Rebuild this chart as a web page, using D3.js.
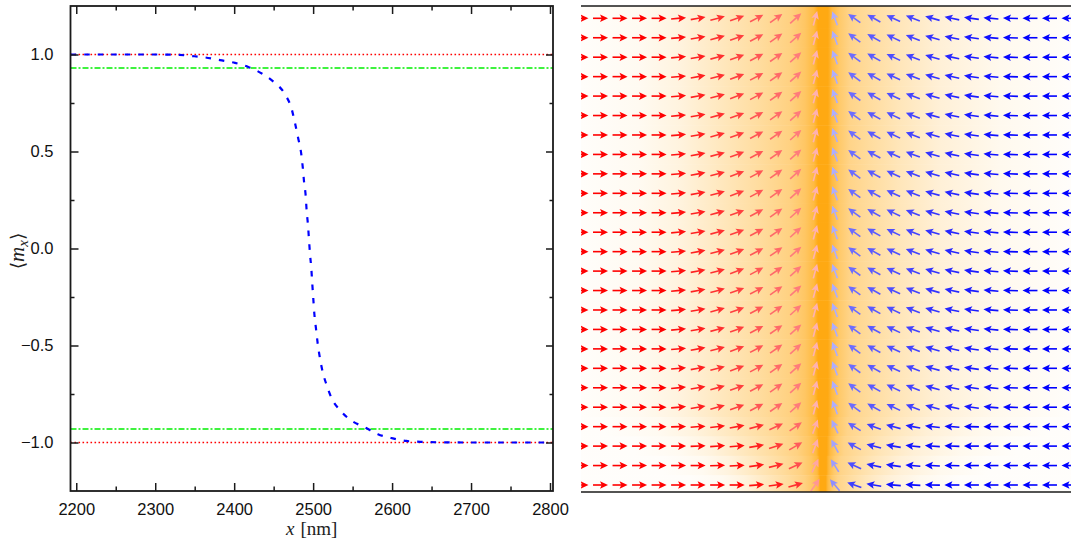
<!DOCTYPE html>
<html><head><meta charset="utf-8">
<script src="https://cdn.jsdelivr.net/npm/d3@7"></script>
<style>body{margin:0;background:#fff} svg{display:block}</style>
</head><body>
<svg id="fig" width="1071" height="544"></svg>
<script>
// ---- left panel: averaged magnetisation profile across the wall ----
const positionNm = [2193, 2250, 2300, 2331, 2344, 2363, 2382, 2401, 2418, 2435, 2450, 2464,
  2473, 2477, 2481, 2484.6, 2486.8, 2488.4, 2490.6, 2491.8, 2493.5, 2494.8, 2496.1, 2497.7,
  2498.9, 2500.2, 2501.5, 2503.6, 2505.8, 2508.7, 2512.1, 2517.2, 2523.5, 2534, 2546, 2566,
  2582, 2601, 2618, 2640, 2660, 2700, 2750, 2804];
const meanMx = [1.0, 1.0, 1.0, 0.998, 0.993, 0.985, 0.971, 0.957, 0.936, 0.902, 0.859, 0.797,
  0.716, 0.647, 0.570, 0.498, 0.421, 0.348, 0.270, 0.194, 0.120, 0.043, -0.031, -0.103,
  -0.180, -0.258, -0.335, -0.412, -0.490, -0.567, -0.636, -0.705, -0.773, -0.833, -0.880, -0.923,
  -0.957, -0.979, -0.992, -0.997, -0.999, -1.0, -1.0, -1.0];
const saturationLevels = [1, -1];
const thresholdLevels = [0.93, -0.93];
const xTickValues = [2200, 2300, 2400, 2500, 2600, 2700, 2800];
const xMinorValues = [2250, 2350, 2450, 2550, 2650, 2750];
const yTickValues = [-1, -0.5, 0, 0.5, 1];
const yMinorValues = [-0.75, -0.25, 0.25, 0.75];

// ---- right panel: in-plane magnetisation map ----
// arrow direction per column, degrees from +x (counter-clockwise), bulk rows
const arrowAngleDeg = [0, 0, 0, 0, 0, 5, 10, 15, 20, 28, 35, 42, 75,
  110, 144, 151, 155, 159, 164, 168, 172, 175, 178, 180, 180, 180];
// the four rows next to the lower edge, where the wall is narrower
const edgeRowAngleDeg = {
  21: [0, 0, 0, 0, 0, 2, 4, 7, 10, 15, 25, 35, 70, 115, 148, 160, 165, 170, 173, 176, 178, 180, 180, 180, 180, 180],
  22: [0, 0, 0, 0, 0, 0, 2, 4, 5, 10, 18, 30, 70, 118, 152, 165, 170, 174, 176, 178, 180, 180, 180, 180, 180, 180],
  23: [0, 0, 0, 0, 0, 0, 0, 2, 3, 8, 14, 25, 65, 122, 155, 168, 172, 175, 177, 179, 180, 180, 180, 180, 180, 180],
  24: [0, 0, 0, 0, 0, 0, 0, 0, 0, 5, 8, 15, 55, 130, 160, 170, 175, 177, 179, 180, 180, 180, 180, 180, 180, 180]
};
const rowIndex = d3.range(25);
// relative width of the shaded wall region in each row
const rowShadeWidth = [1, 1, 1, 1, 1, 1, 1, 1, 1, 1, 1, 1, 1, 1, 1, 1, 1, 1, 1, 1, 1, 0.9, 0.78, 0.66, 0.55];
// shading of the wall region: position in column units, level 0..1
const shadeCenter = 12.4;
const shadePos =   [0, 3.0, 5.07, 7.12, 9.17, 10.7, 11.48, 11.94, 12.14, 12.4, 12.65, 12.86, 13.27, 13.78, 14.8, 16.34, 18.39, 21.46, 25.1];
const shadeLevel = [0.02, 0.06, 0.14, 0.27, 0.41, 0.53, 0.66, 0.8, 1.0, 1.0, 1.0, 0.8, 0.62, 0.5, 0.41, 0.29, 0.17, 0.07, 0.02];

const svg = d3.select("#fig");
const sans = "'Liberation Sans', Arial, sans-serif";
const serif = "'Liberation Serif', 'DejaVu Serif', serif";

// ===== left panel =====
const L = {left: 70.5, right: 553, top: 6, bottom: 491};
const x = d3.scaleLinear().domain([2192.7, 2803.8]).range([L.left, L.right]);
const y = d3.scaleLinear().domain([-1.25, 1.25]).range([L.bottom, L.top]);

const left = svg.append("g");
left.append("defs").append("clipPath").attr("id", "plotClip")
  .append("rect").attr("x", L.left).attr("y", L.top)
  .attr("width", L.right - L.left).attr("height", L.bottom - L.top);

const plot = left.append("g").attr("clip-path", "url(#plotClip)");
plot.selectAll("line.sat").data(saturationLevels).join("line")
  .attr("class", "sat")
  .attr("x1", L.left).attr("x2", L.right)
  .attr("y1", d => y(d)).attr("y2", d => y(d))
  .attr("stroke", "#ff0000").attr("stroke-width", 1.4)
  .attr("stroke-dasharray", "1.6,2.4");
plot.selectAll("line.thr").data(thresholdLevels).join("line")
  .attr("class", "thr")
  .attr("x1", L.left).attr("x2", L.right)
  .attr("y1", d => y(d)).attr("y2", d => y(d))
  .attr("stroke", "#00ee00").attr("stroke-width", 1.5)
  .attr("stroke-dasharray", "6,2,2,2");
const line = d3.line().x(d => x(d[0])).y(d => y(d[1])).curve(d3.curveMonotoneX);
plot.append("path")
  .datum(positionNm.map((p, i) => [p, meanMx[i]]))
  .attr("d", line).attr("fill", "none")
  .attr("stroke", "#0000ff").attr("stroke-width", 2.2)
  .attr("stroke-dasharray", "5.5,8");

// axes (ticks pointing inward on all four sides)
const axisColor = "#1a1a1a";
const bottomAx = left.append("g").attr("transform", `translate(0,${L.bottom})`)
  .call(d3.axisBottom(x).tickValues(xTickValues).tickSize(-8).tickPadding(12).tickFormat(d3.format("d")));
const bottomMinor = left.append("g").attr("transform", `translate(0,${L.bottom})`)
  .call(d3.axisBottom(x).tickValues(xMinorValues).tickSize(-4.5).tickFormat(""));
const topAx = left.append("g").attr("transform", `translate(0,${L.top})`)
  .call(d3.axisTop(x).tickValues(xTickValues).tickSize(-8).tickFormat(""));
const topMinor = left.append("g").attr("transform", `translate(0,${L.top})`)
  .call(d3.axisTop(x).tickValues(xMinorValues).tickSize(-4.5).tickFormat(""));
const leftAx = left.append("g").attr("transform", `translate(${L.left},0)`)
  .call(d3.axisLeft(y).tickValues(yTickValues).tickSize(-8).tickPadding(17).tickFormat(d3.format(".1f")));
const leftMinor = left.append("g").attr("transform", `translate(${L.left},0)`)
  .call(d3.axisLeft(y).tickValues(yMinorValues).tickSize(-4).tickFormat(""));
const rightAx = left.append("g").attr("transform", `translate(${L.right},0)`)
  .call(d3.axisRight(y).tickValues(yTickValues).tickSize(-7).tickFormat(""));
const rightMinor = left.append("g").attr("transform", `translate(${L.right},0)`)
  .call(d3.axisRight(y).tickValues(yMinorValues).tickSize(-3.5).tickFormat(""));

[bottomAx, bottomMinor, topAx, topMinor, leftAx, leftMinor, rightAx, rightMinor].forEach(g => {
  g.select(".domain").remove();
  g.selectAll(".tick line").attr("stroke", axisColor).attr("stroke-width", 1.5);
  g.selectAll(".tick text").attr("fill", "#111").style("font-family", sans).style("font-size", "16.5px");
});
bottomAx.selectAll(".tick text").attr("dy", "0.71em");

left.append("rect")
  .attr("x", L.left).attr("y", L.top)
  .attr("width", L.right - L.left).attr("height", L.bottom - L.top)
  .attr("fill", "none").attr("stroke", axisColor).attr("stroke-width", 1.8);

// axis titles
const xt = left.append("text")
  .attr("x", (L.left + L.right) / 2).attr("y", 535)
  .attr("text-anchor", "middle")
  .style("font-family", serif).style("font-size", "19px").attr("fill", "#222");
xt.append("tspan").style("font-style", "italic").text("x");
xt.append("tspan").attr("dx", 6).text("[nm]");

const yt = left.append("text")
  .attr("transform", "translate(24,251) rotate(-90)")
  .attr("text-anchor", "middle")
  .style("font-family", serif).style("font-size", "21px").attr("fill", "#222");
yt.append("tspan").style("font-family", "'DejaVu Serif', serif").style("font-size", "19px").text("⟨");
yt.append("tspan").style("font-style", "italic").text("m");
yt.append("tspan").style("font-style", "italic").style("font-size", "15px").attr("dy", 4).text("x");
yt.append("tspan").attr("dy", -4).style("font-family", "'DejaVu Serif', serif").style("font-size", "19px").text("⟩");

// ===== right panel =====
const R = {left: 581, right: 1071, top: 6, bottom: 492};
const col = d3.scaleLinear().domain([0, 25]).range([581, 1069]);
const row = d3.scaleLinear().domain([0, 24]).range([18.3, 485]);
const rowStep = row(1) - row(0);
const shade = d3.interpolateRgb("#ffffff", "#ffa912");

const right = svg.append("g");
const defs = right.append("defs");
defs.append("clipPath").attr("id", "mapClip")
  .append("rect").attr("x", R.left).attr("y", R.top)
  .attr("width", R.right - R.left).attr("height", R.bottom - R.top);

// one horizontal gradient per row band, squeezed towards the wall centre where the wall is narrower
const grads = defs.selectAll("linearGradient").data(rowIndex).join("linearGradient")
  .attr("id", r => `wallShade${r}`)
  .attr("gradientUnits", "userSpaceOnUse")
  .attr("x1", col(-20)).attr("x2", col(45)).attr("y1", 0).attr("y2", 0);
grads.each(function (r) {
  const w = rowShadeWidth[r];
  const stops = [{p: -20, v: 0}].concat(
    shadePos.map((p, i) => ({p: shadeCenter + (p - shadeCenter) * w, v: shadeLevel[i]})),
    [{p: 45, v: 0}]);
  d3.select(this).selectAll("stop").data(stops).join("stop")
    .attr("offset", d => (d.p + 20) / 65)
    .attr("stop-color", d => shade(d.v));
});

const map = right.append("g").attr("clip-path", "url(#mapClip)");
map.selectAll("rect.band").data(rowIndex).join("rect")
  .attr("class", "band")
  .attr("x", R.left).attr("width", R.right - R.left)
  .attr("y", r => r === 0 ? R.top : row(r) - rowStep / 2)
  .attr("height", r => r === 0 ? row(0) + rowStep / 2 - R.top + 0.5
    : (r === 24 ? R.bottom - (row(r) - rowStep / 2) : rowStep + 0.5))
  .attr("fill", r => `url(#wallShade${r})`);

const cells = [];
rowIndex.forEach(r => {
  const angles = edgeRowAngleDeg[r] || arrowAngleDeg;
  angles.forEach((a, c) => cells.push({r, c, a}));
});
const arrowColor = a => {
  const t = a * Math.PI / 180;
  const base = Math.cos(t) >= 0 ? "#ff0000" : "#0000ff";
  return d3.interpolateRgb(base, "#ffffff")(0.72 * Math.abs(Math.sin(t)));
};
const arrows = map.selectAll("g.arrow").data(cells).join("g")
  .attr("class", "arrow")
  .attr("transform", d => `translate(${col(d.c)},${row(d.r)}) rotate(${-d.a})`);
arrows.append("line")
  .attr("x1", -7.5).attr("x2", 1.5).attr("y1", 0).attr("y2", 0)
  .attr("stroke", d => arrowColor(d.a)).attr("stroke-width", 1.6);
arrows.append("path")
  .attr("d", "M7.5,0 L-0.5,-3.8 L1.2,0 L-0.5,3.8 Z")
  .attr("fill", d => arrowColor(d.a));

right.selectAll("line.edge").data([R.top, R.bottom]).join("line")
  .attr("class", "edge")
  .attr("x1", R.left).attr("x2", R.right)
  .attr("y1", d => d).attr("y2", d => d)
  .attr("stroke", "#1a1a1a").attr("stroke-width", 1.6);
</script>
</body></html>
